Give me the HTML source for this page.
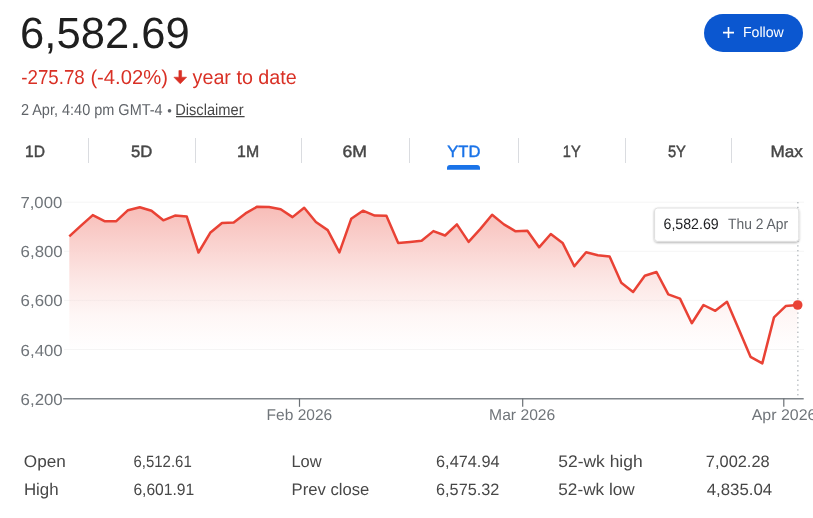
<!DOCTYPE html>
<html lang="en"><head><meta charset="utf-8"><title>Market summary</title>
<style>
html,body{margin:0;padding:0;background:#fff;}
body{width:813px;height:518px;overflow:hidden;}
svg{display:block;}
svg text{font-family:'Liberation Sans', Arial, sans-serif;white-space:pre;text-rendering:geometricPrecision;}
</style></head><body>
<svg width="813" height="518" viewBox="0 0 813 518">
<defs><linearGradient id="g" x1="0" y1="204" x2="0" y2="352" gradientUnits="userSpaceOnUse">
<stop offset="0" stop-color="#ea4335" stop-opacity="0.36"/>
<stop offset="0.5" stop-color="#ea4335" stop-opacity="0.135"/>
<stop offset="0.75" stop-color="#ea4335" stop-opacity="0.045"/>
<stop offset="1" stop-color="#ea4335" stop-opacity="0"/>
</linearGradient>
<linearGradient id="w" x1="0" y1="204" x2="0" y2="320" gradientUnits="userSpaceOnUse">
<stop offset="0" stop-color="#fff" stop-opacity="1"/>
<stop offset="0.55" stop-color="#fff" stop-opacity="0.85"/>
<stop offset="1" stop-color="#fff" stop-opacity="0"/>
</linearGradient>
<path id="areaShape" d="M69.3,398 L69.3,236.4 L81.0,225.6 L92.8,215.1 L104.5,221.2 L116.3,221.2 L128.0,210.2 L139.8,207.2 L151.5,210.7 L163.3,220.3 L175.0,215.6 L186.8,216.6 L198.5,252.5 L210.2,232.8 L222.0,223.0 L233.7,222.5 L245.5,213.4 L257.2,206.7 L269.0,207.0 L280.7,209.2 L292.5,217.1 L304.2,207.7 L315.9,222.0 L327.7,230.1 L339.4,252.4 L351.2,218.8 L362.9,210.7 L374.7,215.6 L386.4,215.8 L398.2,242.9 L409.9,241.9 L421.6,240.8 L433.4,231.1 L445.1,235.5 L456.9,224.4 L468.6,241.9 L480.4,228.9 L492.1,214.8 L503.9,224.4 L515.6,231.3 L527.4,230.8 L539.1,247.3 L550.8,234.0 L562.6,242.9 L574.3,266.3 L586.1,252.2 L597.8,255.2 L609.6,256.6 L621.3,282.7 L633.1,291.9 L644.8,275.7 L656.5,272.0 L668.3,294.3 L680.0,298.6 L691.8,323.2 L703.5,305.0 L715.3,310.8 L727.0,301.8 L738.8,329.3 L750.5,356.8 L762.3,363.4 L774.0,317.4 L785.7,306.1 L797.5,305.0 L797.5,398 Z"/>
<filter id="sh" x="-10%" y="-20%" width="120%" height="150%"><feDropShadow dx="0" dy="1" stdDeviation="0.8" flood-color="#000" flood-opacity="0.3"/></filter>
</defs>
<!-- header -->
<g id="header">
<text x="20.1" y="48.0" font-size="43.7" fill="#1f1f1f" textLength="169.76" lengthAdjust="spacingAndGlyphs">6,582.69</text>
<text x="21.27" y="83.85" font-size="20.2" fill="#d93025" textLength="63.52" lengthAdjust="spacingAndGlyphs">-275.78</text>
<text x="90.4" y="83.85" font-size="20.2" fill="#d93025" textLength="77.49" lengthAdjust="spacingAndGlyphs">(-4.02%)</text>
<text x="192.6" y="83.85" font-size="20.2" fill="#d93025" textLength="104.11" lengthAdjust="spacingAndGlyphs">year to date</text>
<text x="20.9" y="115.0" font-size="15.8" fill="#5f6368" textLength="141.76" lengthAdjust="spacingAndGlyphs">2 Apr, 4:40 pm GMT-4</text>
<text x="167.3" y="115.0" font-size="13" fill="#5f6368" textLength="4.56" lengthAdjust="spacingAndGlyphs">•</text>
<text x="175.2" y="115.0" font-size="15.8" fill="#474747" textLength="68.39" lengthAdjust="spacingAndGlyphs">Disclaimer</text>
<line x1="176" x2="244.6" y1="116.6" y2="116.6" stroke="#474747" stroke-width="1.1"/>
<path d="M178.9 70.6H181.6V77.2H186.6L180.25 83.8L173.9 77.2H178.9Z" fill="#d93025" stroke="#d93025" stroke-width="0.6" stroke-linejoin="round"/>
</g>
<!-- follow button -->
<g id="follow">
<rect x="704" y="14" width="99" height="38" rx="19" fill="#0b57d0"/>
<path d="M728.5 27.1V38.1M723 32.6H734" stroke="#fff" stroke-width="1.6" fill="none"/>
<text x="742.9" y="36.8" font-size="14.4" fill="#ffffff" textLength="40.88" lengthAdjust="spacingAndGlyphs">Follow</text>
</g>
<!-- range tabs -->
<g id="tabs">
<text x="25.1" y="156.5" font-size="16.4" fill="#474747" stroke="#474747" stroke-width="0.45" textLength="19.93" lengthAdjust="spacingAndGlyphs">1D</text>
<text x="131.03" y="156.5" font-size="16.4" fill="#474747" stroke="#474747" stroke-width="0.45" textLength="21.32" lengthAdjust="spacingAndGlyphs">5D</text>
<text x="237.1" y="156.5" font-size="16.4" fill="#474747" stroke="#474747" stroke-width="0.45" textLength="22.02" lengthAdjust="spacingAndGlyphs">1M</text>
<text x="342.57" y="156.5" font-size="16.4" fill="#474747" stroke="#474747" stroke-width="0.45" textLength="24.44" lengthAdjust="spacingAndGlyphs">6M</text>
<text x="447.26" y="156.5" font-size="16.4" fill="#1a73e8" stroke="#1a73e8" stroke-width="0.45" textLength="33.09" lengthAdjust="spacingAndGlyphs">YTD</text>
<text x="562.8" y="156.5" font-size="16.4" fill="#474747" stroke="#474747" stroke-width="0.45" textLength="17.87" lengthAdjust="spacingAndGlyphs">1Y</text>
<text x="667.88" y="156.5" font-size="16.4" fill="#474747" stroke="#474747" stroke-width="0.45" textLength="18.03" lengthAdjust="spacingAndGlyphs">5Y</text>
<text x="770.6" y="156.5" font-size="16.4" fill="#474747" stroke="#474747" stroke-width="0.45" textLength="32.31" lengthAdjust="spacingAndGlyphs">Max</text>
<path d="M447 169.7V168a3 3 0 0 1 3-3H477a3 3 0 0 1 3 3V169.7Z" fill="#1a73e8"/>
<g stroke="#dadce0" stroke-width="1">
<line x1="88.5" x2="88.5" y1="138" y2="163"/>
<line x1="195.5" x2="195.5" y1="138" y2="163"/>
<line x1="301.5" x2="301.5" y1="138" y2="163"/>
<line x1="409.5" x2="409.5" y1="138" y2="163"/>
<line x1="518.5" x2="518.5" y1="138" y2="163"/>
<line x1="625.5" x2="625.5" y1="138" y2="163"/>
<line x1="731.5" x2="731.5" y1="138" y2="163"/>
</g>
</g>
<!-- chart -->
<g id="chart">
<g stroke="#f5f5f5" stroke-width="1">
<line x1="64" x2="804" y1="202.2" y2="202.2"/>
<line x1="64" x2="804" y1="251.3" y2="251.3"/>
<line x1="64" x2="804" y1="300.4" y2="300.4"/>
<line x1="64" x2="804" y1="349.5" y2="349.5"/>
</g>
<use href="#areaShape" fill="url(#w)"/>
<use href="#areaShape" fill="url(#g)"/>
<line x1="63.2" x2="803.7" y1="398.75" y2="398.75" stroke="#80868b" stroke-width="1.3"/>
<g stroke="#6b7075" stroke-width="1.2">
<line x1="299.5" x2="299.5" y1="398.5" y2="406.8"/>
<line x1="522.7" x2="522.7" y1="398.5" y2="406.8"/>
<line x1="783.8" x2="783.8" y1="398.5" y2="406.8"/>
</g>
<line x1="797.9" x2="797.9" y1="202" y2="398" stroke="#9aa0a6" stroke-width="1" stroke-dasharray="1.4,3.4"/>
<polyline points="69.3,236.4 81.0,225.6 92.8,215.1 104.5,221.2 116.3,221.2 128.0,210.2 139.8,207.2 151.5,210.7 163.3,220.3 175.0,215.6 186.8,216.6 198.5,252.5 210.2,232.8 222.0,223.0 233.7,222.5 245.5,213.4 257.2,206.7 269.0,207.0 280.7,209.2 292.5,217.1 304.2,207.7 315.9,222.0 327.7,230.1 339.4,252.4 351.2,218.8 362.9,210.7 374.7,215.6 386.4,215.8 398.2,242.9 409.9,241.9 421.6,240.8 433.4,231.1 445.1,235.5 456.9,224.4 468.6,241.9 480.4,228.9 492.1,214.8 503.9,224.4 515.6,231.3 527.4,230.8 539.1,247.3 550.8,234.0 562.6,242.9 574.3,266.3 586.1,252.2 597.8,255.2 609.6,256.6 621.3,282.7 633.1,291.9 644.8,275.7 656.5,272.0 668.3,294.3 680.0,298.6 691.8,323.2 703.5,305.0 715.3,310.8 727.0,301.8 738.8,329.3 750.5,356.8 762.3,363.4 774.0,317.4 785.7,306.1 797.5,305.0" fill="none" stroke="#e94235" stroke-width="2.5" stroke-linejoin="round" stroke-linecap="butt"/>
<circle cx="797.7" cy="305" r="4.8" fill="#e94235"/>
<text x="20.44" y="207.9" font-size="16.0" fill="#70757a" textLength="41.75" lengthAdjust="spacingAndGlyphs">7,000</text>
<text x="20.62" y="257.1" font-size="16.0" fill="#70757a" textLength="42.09" lengthAdjust="spacingAndGlyphs">6,800</text>
<text x="20.62" y="306.3" font-size="16.0" fill="#70757a" textLength="42.09" lengthAdjust="spacingAndGlyphs">6,600</text>
<text x="20.62" y="355.5" font-size="16.0" fill="#70757a" textLength="42.09" lengthAdjust="spacingAndGlyphs">6,400</text>
<text x="20.62" y="404.65" font-size="16.0" fill="#70757a" textLength="42.09" lengthAdjust="spacingAndGlyphs">6,200</text>
<text x="266.6" y="419.5" font-size="15.5" fill="#70757a" textLength="65.54" lengthAdjust="spacingAndGlyphs">Feb 2026</text>
<text x="489.1" y="419.5" font-size="15.5" fill="#70757a" textLength="66.2" lengthAdjust="spacingAndGlyphs">Mar 2026</text>
<text x="751.7" y="419.5" font-size="15.5" fill="#70757a" textLength="64.7" lengthAdjust="spacingAndGlyphs">Apr 2026</text>
<rect x="654.6" y="208" width="144.2" height="33.4" rx="3" fill="#fff" stroke="#dcdcdc" stroke-width="0.9" filter="url(#sh)"/>
<text x="663.53" y="228.7" font-size="15.0" fill="#202124" textLength="55.21" lengthAdjust="spacingAndGlyphs">6,582.69</text>
<text x="728.0" y="228.7" font-size="15.0" fill="#5f6368" textLength="60.04" lengthAdjust="spacingAndGlyphs">Thu 2 Apr</text>
</g>
<!-- key stats -->
<g id="stats">
<text x="23.8" y="466.9" font-size="16.8" fill="#474747" textLength="41.99" lengthAdjust="spacingAndGlyphs">Open</text>
<text x="23.95" y="494.8" font-size="16.8" fill="#474747" textLength="34.67" lengthAdjust="spacingAndGlyphs">High</text>
<text x="133.41" y="466.8" font-size="16.5" fill="#474747" textLength="58.33" lengthAdjust="spacingAndGlyphs">6,512.61</text>
<text x="133.38" y="494.7" font-size="16.5" fill="#474747" textLength="60.89" lengthAdjust="spacingAndGlyphs">6,601.91</text>
<text x="291.4" y="466.9" font-size="16.8" fill="#474747" textLength="30.23" lengthAdjust="spacingAndGlyphs">Low</text>
<text x="291.6" y="494.8" font-size="16.8" fill="#474747" textLength="77.73" lengthAdjust="spacingAndGlyphs">Prev close</text>
<text x="436.04" y="466.8" font-size="16.5" fill="#474747" textLength="63.53" lengthAdjust="spacingAndGlyphs">6,474.94</text>
<text x="436.04" y="494.7" font-size="16.5" fill="#474747" textLength="63.33" lengthAdjust="spacingAndGlyphs">6,575.32</text>
<text x="558.31" y="466.9" font-size="16.8" fill="#474747" textLength="84.31" lengthAdjust="spacingAndGlyphs">52-wk high</text>
<text x="558.31" y="494.8" font-size="16.8" fill="#474747" textLength="76.38" lengthAdjust="spacingAndGlyphs">52-wk low</text>
<text x="705.86" y="466.8" font-size="16.5" fill="#474747" textLength="63.77" lengthAdjust="spacingAndGlyphs">7,002.28</text>
<text x="706.7" y="494.7" font-size="16.5" fill="#474747" textLength="65.54" lengthAdjust="spacingAndGlyphs">4,835.04</text>
</g>
</svg>
</body></html>
